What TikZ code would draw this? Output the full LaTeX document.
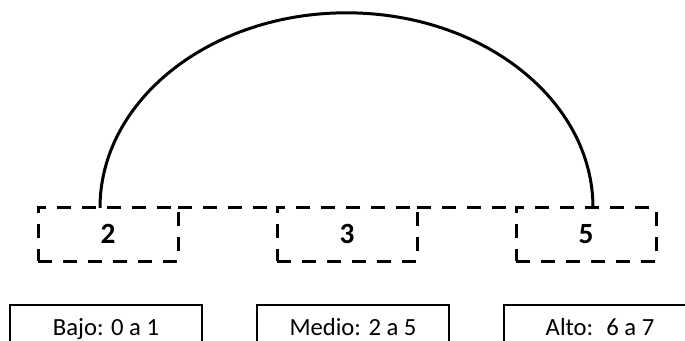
\documentclass[tikz,border=0pt]{standalone}
\usepackage{fontspec}
\setmainfont{Carlito}
\usetikzlibrary{positioning}

\begin{document}
\begin{tikzpicture}[
  x=0.75pt,
  y=0.75pt,
  every node/.style={font=\fontsize{18.5}{22}\selectfont, inner sep=0pt, outer sep=0pt},
  nivelbox/.style={draw=black, line width=2.25pt, dash pattern=on 10.5pt off 8.25pt,
                   minimum width=105pt, minimum height=40pt,
                   text height=13.6pt, text depth=0pt,
                   font=\fontsize{22}{26}\selectfont\bfseries},
  enlace/.style={black, line width=2.25pt, dash pattern=on 10.5pt off 8.25pt},
  rangobox/.style={draw=black, line width=1.8pt, minimum width=144pt, minimum height=34.5pt,
                   text height=11.9pt, text depth=0pt},
  arco/.style={black, line width=2.25pt}
]
  % ---- page frame (the range boxes run off the bottom) ----
  \useasboundingbox (0,0) rectangle (685,341);
  \clip (0,0) rectangle (685,341);

  % ---- dashed level boxes ----
  \node[nivelbox] (n2) at (108,106.5) {2};
  \node[nivelbox, right=74.25pt of n2] (n3) {3};
  \node[nivelbox, right=74.25pt of n3] (n5) {5};

  % ---- dashed links along the top edges ----
  \draw[enlace] (n2.north east) -- (n3.north west);
  \draw[enlace] (n3.north east) -- (n5.north west);

  % ---- arc from the first box to the last ----
  \coordinate (arcA) at ([xshift=-6pt]n2.north);
  \draw[arco] (arcA) arc[start angle=180, end angle=0, x radius=246.5, y radius=195];

  % ---- range boxes ----
  \node[rangobox] (bajo) at (106,13) {Bajo: 0 a 1};
  \node[rangobox, right=41.25pt of bajo] (medio) {Medio: 2 a 5};
  \node[rangobox, right=41.25pt of medio] (alto) {Alto:~ 6 a 7};
\end{tikzpicture}
\end{document}
